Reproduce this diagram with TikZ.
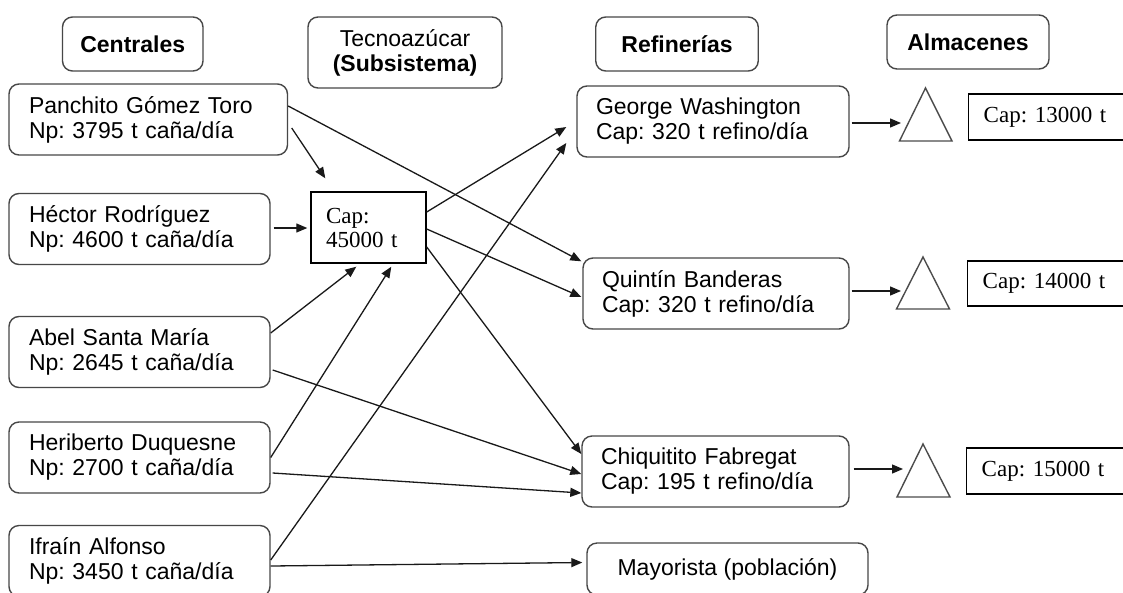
\documentclass[tikz,border=0pt]{standalone}
\usepackage{fontspec}
\setmainfont{Liberation Sans}
\newfontfamily\serifcap{Liberation Serif}
\usetikzlibrary{arrows.meta}
\frenchspacing
\begin{document}
\begin{tikzpicture}[x=1pt,y=-1pt,
  every node/.style={inner ysep=0pt},
  rbox/.style={draw=black!72, line width=1.4pt, rounded corners=10pt, font=\frenchspacing\fontsize{23}{25}\selectfont},
  hdr/.style={rbox, align=center, inner xsep=0pt},
  lbox/.style={rbox, align=left, inner xsep=20pt, minimum height=71pt},
  rfbox/.style={rbox, align=left, inner xsep=19pt, minimum height=71pt},
  sqbox/.style={draw=black, line width=1.4pt, font=\frenchspacing\serifcap\fontsize{23}{24}\selectfont, align=left, inner xsep=15pt},
  conn/.style={draw=black!90, line width=1.3pt, -{Triangle[length=11pt,width=9pt]}},
  tri/.style={draw=black!70, line width=1.4pt, line join=miter}
]
\useasboundingbox (0,0) rectangle (1123,592);
\fill[white] (0,0) rectangle (1123,592);
\clip (0,0) rectangle (1123,592);

% headers
\node[hdr, minimum width=140.5pt, minimum height=54pt] (cen) at (132.75,44) {\bfseries Centrales};
\node[hdr, minimum width=194pt, minimum height=71pt] (tec) at (405,52.5) {Tecnoazúcar\\\bfseries (Subsistema)};
\node[hdr, minimum width=162.5pt, minimum height=54pt] (ref) at (677,44) {\bfseries Refinerías};
\node[hdr, minimum width=162pt, minimum height=54pt] (alm) at (968,42) {\bfseries Almacenes};

% centrales
\node[lbox, text width=238.5pt] (pan) at (148.25,119.5) {Panchito Gómez Toro\\Np: 3795 t caña/día};
\node[lbox, text width=221pt] (hec) at (139.5,229) {Héctor Rodríguez\\Np: 4600 t caña/día};
\node[lbox, text width=221pt] (abe) at (139.5,352) {Abel Santa María\\Np: 2645 t caña/día};
\node[lbox, text width=221pt] (her) at (139.5,457.5) {Heriberto Duquesne\\Np: 2700 t caña/día};
\node[lbox, text width=221pt] (ifr) at (139.5,561) {Ifraín Alfonso\\Np: 3450 t caña/día};

% tecnoazucar store
\node[sqbox, text width=85pt, minimum height=71pt] (cap) at (368.5,227.5) {Cap:\\45000 t};

% refinerias
\node[rfbox, text width=234pt] (gw) at (713,121.5) {George Washington\\Cap: 320 t refino/día};
\node[rfbox, text width=228pt] (qui) at (716,293.5) {Quintín Banderas\\Cap: 320 t refino/día};
\node[rfbox, text width=229pt] (chi) at (715.5,471.5) {Chiquitito Fabregat\\Cap: 195 t refino/día};
\node[rbox, align=center, minimum width=281pt, minimum height=52pt] (may) at (727.5,569) {Mayorista (población)};

% almacenes
\draw[tri] (925.5,88) -- (952,141) -- (899.5,141) -- cycle;
\draw[tri] (923,257) -- (949.5,309) -- (896.5,309) -- cycle;
\draw[tri] (923,444) -- (950,497) -- (897,497) -- cycle;
\coordinate (t1) at (901,123);
\coordinate (t2) at (901,291);
\coordinate (t3) at (903,469);
\node[sqbox, anchor=west, text width=160pt, minimum height=46pt] (c13) at (968,117) {Cap: 13000 t};
\node[sqbox, anchor=west, text width=160pt, minimum height=45pt] (c14) at (967,283.5) {Cap: 14000 t};
\node[sqbox, anchor=west, text width=160pt, minimum height=46pt] (c15) at (966,471) {Cap: 15000 t};

% connectors
\draw[conn] ([shift={(3.5,8.5)}]pan.east) -- ([shift={(15,-13)}]cap.north west);
\draw[conn] ([shift={(3,-1)}]hec.east) -- ([shift={(-3,0.5)}]cap.west);
\draw[conn] ([shift={(0,-19)}]abe.east) -- ([shift={(46,3)}]cap.south west);
\draw[conn] (her.east) -- ([shift={(81,3)}]cap.south west);
\draw[conn] ([shift={(0,-13.5)}]pan.east) -- ([shift={(-1,4)}]qui.north west);
\draw[conn] ([shift={(0,1.5)}]cap.east) -- ([shift={(-1,3.5)}]qui.west);
\draw[conn] ([shift={(0,-15.5)}]cap.east) -- ([shift={(-10,5.5)}]gw.west);
\draw[conn] ([shift={(0,-1)}]ifr.east) -- ([shift={(-10,21.5)}]gw.west);
\draw[conn] ([shift={(0,19.5)}]cap.east) -- ([shift={(0,-17.5)}]chi.west);
\draw[conn] ([shift={(2,18)}]abe.east) -- ([shift={(0,2.5)}]chi.west);
\draw[conn] ([shift={(2,15.5)}]her.east) -- ([shift={(0,21.5)}]chi.west);
\draw[conn] ([shift={(0,5)}]ifr.east) -- ([shift={(-4,-6.5)}]may.west);
\draw[conn] ([shift={(2,1.5)}]gw.east) -- (t1);
\draw[conn] ([shift={(2,-2.5)}]qui.east) -- (t2);
\draw[conn] ([shift={(4,-2.5)}]chi.east) -- (t3);
\end{tikzpicture}
\end{document}
